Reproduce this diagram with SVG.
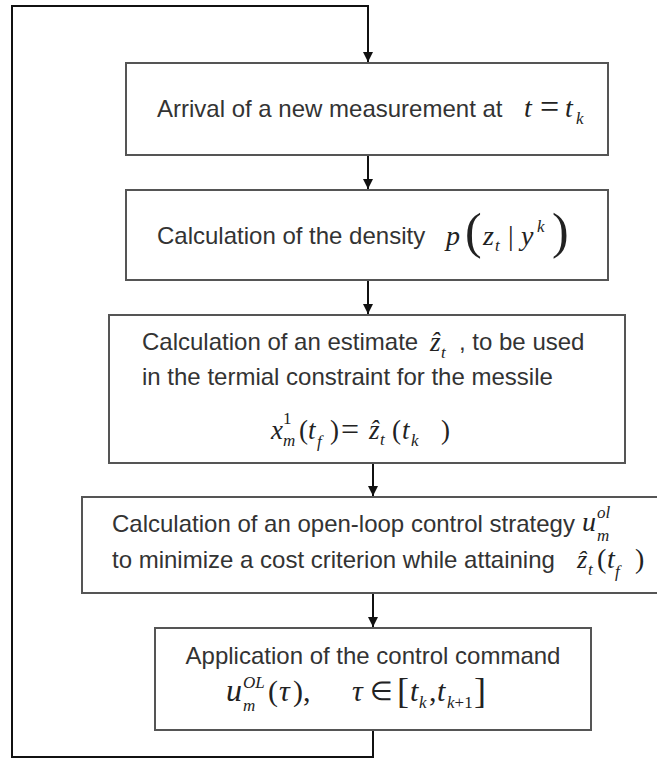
<svg xmlns="http://www.w3.org/2000/svg" width="657" height="758" viewBox="0 0 657 758">
<style>
.box{fill:#fff;stroke:#555;stroke-width:2}
.conn{fill:none;stroke:#111;stroke-width:2}
.t{font-family:"Liberation Sans",Arial,sans-serif;font-size:24px;fill:#333}
.m{font-family:"Liberation Serif","Times New Roman",serif;font-style:italic;font-size:28px;fill:#222}
.r{font-family:"Liberation Serif","Times New Roman",serif;font-size:28px;fill:#222}
.s{font-size:17px}
</style>
<defs>
<marker id="ah" markerUnits="userSpaceOnUse" markerWidth="12" markerHeight="10" refX="10" refY="5" orient="auto">
<path d="M0,0 L10,5 L0,10 Z" fill="#111"/>
</marker>
</defs>
<rect width="657" height="758" fill="#fff"/>
<g id="connectors">
<path class="conn" d="M373,730 V757 H12 V6 H368 V62" marker-end="url(#ah)"/>
<path class="conn" d="M368,155 V189" marker-end="url(#ah)"/>
<path class="conn" d="M368,280 V314" marker-end="url(#ah)"/>
<path class="conn" d="M373,463 V496" marker-end="url(#ah)"/>
<path class="conn" d="M373,593 V627" marker-end="url(#ah)"/>
</g>
<g id="n1">
<rect class="box" x="126" y="63" width="482" height="92"/>
<text class="t" x="157" y="117">Arrival of a new measurement at</text>
<text class="m" x="524" y="117">t</text>
<text class="r" x="540" y="118" style="font-size:34px">=</text>
<text class="m" x="565" y="117">t</text>
<text class="m s" x="576" y="124">k</text>
</g>
<g id="n2">
<rect class="box" x="126" y="190" width="482" height="90"/>
<text class="t" x="157" y="244">Calculation of the density</text>
<text class="m" x="446" y="245">p</text>
<text class="r" x="465" y="248" style="font-size:50px">(</text>
<text class="m" x="483" y="245">z</text>
<text class="m s" x="495" y="251">t</text>
<text class="r" x="508" y="245">|</text>
<text class="m" x="521" y="245">y</text>
<text class="m s" x="537" y="232">k</text>
<text class="r" x="552" y="248" style="font-size:50px">)</text>
</g>
<g id="n3">
<rect class="box" x="109" y="315" width="516" height="148"/>
<text class="t" x="142" y="350">Calculation of an estimate</text>
<text class="m" x="430" y="351" style="font-size:27px">ẑ</text>
<text class="m s" x="441" y="358">t</text>
<text class="t" x="459" y="350">, to be used</text>
<text class="t" x="142" y="385">in the termial constraint for the messile</text>
<text class="m" x="271" y="439" style="font-size:27px">x</text>
<text class="r s" x="283" y="424">1</text>
<text class="m s" x="283" y="446">m</text>
<text class="r" x="299" y="439" style="font-size:27px">(</text>
<text class="m" x="308" y="439" style="font-size:27px">t</text>
<text class="m s" x="317" y="447">f</text>
<text class="r" x="330" y="439" style="font-size:27px">)</text>
<text class="r" x="341" y="440" style="font-size:32px">=</text>
<text class="m" x="369" y="439" style="font-size:27px">ẑ</text>
<text class="m s" x="380" y="445">t</text>
<text class="r" x="392" y="439" style="font-size:27px">(</text>
<text class="m" x="402" y="439" style="font-size:27px">t</text>
<text class="m s" x="411" y="446">k</text>
<text class="r" x="441" y="439" style="font-size:27px">)</text>
</g>
<g id="n4">
<rect class="box" x="82" y="497" width="582" height="96"/>
<text class="t" x="112" y="532">Calculation of an open-loop control strategy</text>
<text class="m" x="582" y="531">u</text>
<text class="m s" x="597" y="518">ol</text>
<text class="m s" x="597" y="541">m</text>
<text class="t" x="112" y="568">to minimize a cost criterion while attaining</text>
<text class="m" x="577" y="568" style="font-size:26px">ẑ</text>
<text class="m s" x="588" y="575">t</text>
<text class="r" x="597" y="568" style="font-size:28px">(</text>
<text class="m" x="607" y="568" style="font-size:28px">t</text>
<text class="m s" x="615" y="577">f</text>
<text class="r" x="635" y="568" style="font-size:28px">)</text>
</g>
<g id="n5">
<rect class="box" x="155" y="628" width="436" height="102"/>
<text class="t" x="373" y="664" text-anchor="middle">Application of the control command</text>
<text class="m" x="226" y="701" style="font-size:32px">u</text>
<text class="m s" x="243" y="688">OL</text>
<text class="m s" x="243" y="711">m</text>
<text class="r" x="268" y="701" style="font-size:30px">(</text>
<text class="m" x="279" y="701" style="font-size:30px">τ</text>
<text class="r" x="293" y="701" style="font-size:30px">),</text>
<text class="m" x="352" y="701" style="font-size:30px">τ</text>
<text class="r" x="370" y="700" style="font-size:26px">∈</text>
<text class="r" x="397" y="703" style="font-size:36px">[</text>
<text class="m" x="410" y="701" style="font-size:30px">t</text>
<text class="m s" x="419" y="708">k</text>
<text class="r" x="429" y="701" style="font-size:30px">,</text>
<text class="m" x="437" y="701" style="font-size:30px">t</text>
<text class="m s" x="447" y="708">k<tspan font-style="normal">+1</tspan></text>
<text class="r" x="474" y="703" style="font-size:36px">]</text>
</g>
</svg>
